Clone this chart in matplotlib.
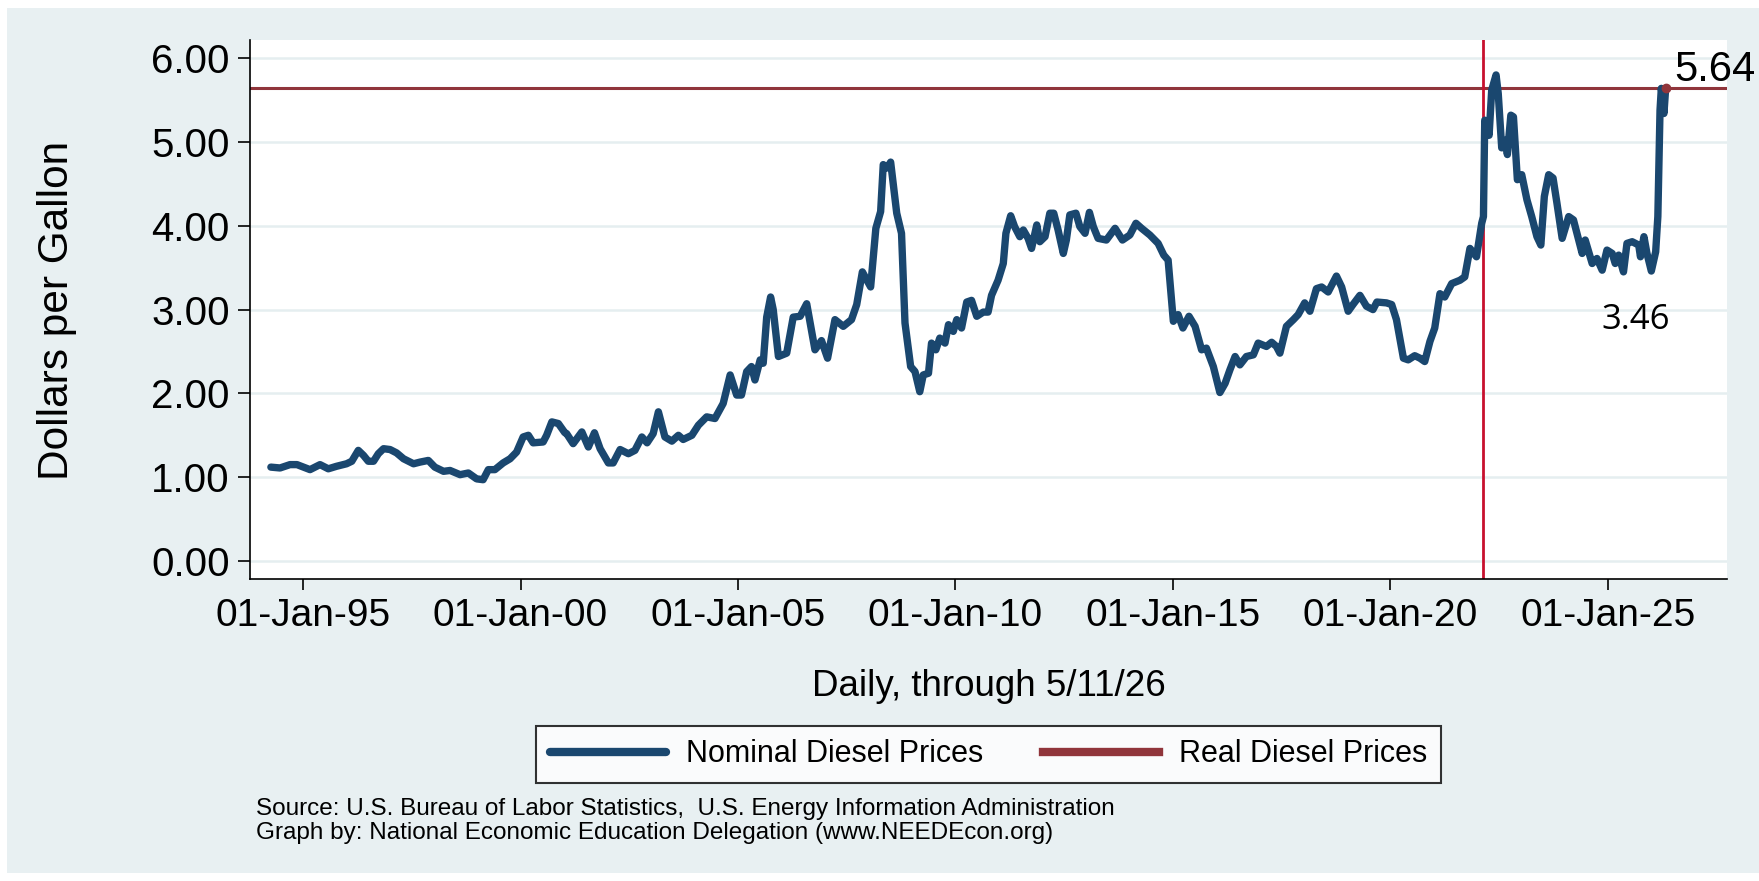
import matplotlib
matplotlib.use('Agg')
import matplotlib.pyplot as plt
from matplotlib.patches import Rectangle

# weekly nominal diesel prices (decimal years)
years = [
    1994.26, 1994.47, 1994.70, 1994.86, 1995.16, 1995.39, 1995.58, 1995.77, 1996.00, 1996.12,
    1996.27, 1996.39, 1996.50, 1996.62, 1996.73, 1996.85, 1997.00, 1997.15, 1997.31, 1997.54,
    1997.69, 1997.88, 1998.03, 1998.23, 1998.38, 1998.61, 1998.80, 1998.99, 1999.14, 1999.26,
    1999.41, 1999.60, 1999.76, 1999.91, 2000.06, 2000.18, 2000.29, 2000.52, 2000.60, 2000.72,
    2000.87, 2001.02, 2001.06, 2001.21, 2001.41, 2001.56, 2001.70, 2001.83, 2002.02, 2002.13,
    2002.29, 2002.48, 2002.63, 2002.79, 2002.91, 2003.05, 2003.17, 2003.32, 2003.48, 2003.63,
    2003.74, 2003.94, 2004.09, 2004.28, 2004.47, 2004.66, 2004.82, 2004.97, 2005.08, 2005.20,
    2005.31, 2005.39, 2005.51, 2005.58, 2005.66, 2005.75, 2005.81, 2005.93, 2006.12, 2006.27,
    2006.43, 2006.58, 2006.77, 2006.92, 2007.06, 2007.23, 2007.42, 2007.61, 2007.73, 2007.86,
    2008.05, 2008.17, 2008.28, 2008.34, 2008.43, 2008.51, 2008.65, 2008.76, 2008.84, 2008.97,
    2009.07, 2009.18, 2009.26, 2009.38, 2009.45, 2009.55, 2009.64, 2009.76, 2009.84, 2009.95,
    2010.03, 2010.14, 2010.26, 2010.37, 2010.49, 2010.64, 2010.75, 2010.83, 2010.98, 2011.10,
    2011.16, 2011.27, 2011.36, 2011.48, 2011.56, 2011.67, 2011.75, 2011.87, 2011.94, 2012.06,
    2012.17, 2012.26, 2012.36, 2012.48, 2012.55, 2012.63, 2012.77, 2012.86, 2012.98, 2013.08,
    2013.17, 2013.28, 2013.47, 2013.67, 2013.84, 2014.01, 2014.15, 2014.28, 2014.47, 2014.66,
    2014.79, 2014.89, 2015.01, 2015.12, 2015.23, 2015.37, 2015.51, 2015.66, 2015.77, 2015.93,
    2016.08, 2016.20, 2016.31, 2016.43, 2016.54, 2016.69, 2016.85, 2016.96, 2017.15, 2017.27,
    2017.38, 2017.46, 2017.61, 2017.77, 2017.88, 2018.03, 2018.15, 2018.30, 2018.42, 2018.57,
    2018.76, 2018.88, 2019.03, 2019.14, 2019.30, 2019.45, 2019.60, 2019.69, 2019.91, 2020.03,
    2020.14, 2020.30, 2020.41, 2020.56, 2020.68, 2020.79, 2020.91, 2021.02, 2021.14, 2021.25,
    2021.41, 2021.60, 2021.71, 2021.83, 2021.98, 2022.10, 2022.14, 2022.17, 2022.27, 2022.33,
    2022.43, 2022.48, 2022.56, 2022.64, 2022.69, 2022.77, 2022.83, 2022.92, 2023.02, 2023.14,
    2023.25, 2023.37, 2023.46, 2023.54, 2023.64, 2023.74, 2023.83, 2023.95, 2024.10, 2024.21,
    2024.41, 2024.48, 2024.64, 2024.75, 2024.87, 2024.98, 2025.10, 2025.17, 2025.25, 2025.36,
    2025.44, 2025.56, 2025.71, 2025.75, 2025.83, 2025.90, 2026.00, 2026.10, 2026.15, 2026.20,
    2026.23, 2026.29, 2026.33,
]
nominal = [
    1.12, 1.11, 1.15, 1.15, 1.09, 1.15, 1.10, 1.13, 1.16, 1.19,
    1.32, 1.26, 1.19, 1.19, 1.28, 1.34, 1.33, 1.29, 1.22, 1.16,
    1.18, 1.20, 1.12, 1.07, 1.08, 1.03, 1.05, 0.98, 0.97, 1.09,
    1.09, 1.17, 1.22, 1.30, 1.48, 1.50, 1.41, 1.42, 1.50, 1.66,
    1.64, 1.53, 1.52, 1.40, 1.54, 1.36, 1.53, 1.34, 1.17, 1.17,
    1.33, 1.28, 1.32, 1.48, 1.41, 1.52, 1.78, 1.48, 1.43, 1.50,
    1.45, 1.50, 1.62, 1.72, 1.70, 1.88, 2.22, 1.98, 1.98, 2.26,
    2.32, 2.16, 2.40, 2.36, 2.91, 3.15, 3.00, 2.44, 2.48, 2.91,
    2.92, 3.07, 2.52, 2.63, 2.42, 2.88, 2.80, 2.88, 3.06, 3.45,
    3.27, 3.97, 4.17, 4.73, 4.69, 4.76, 4.15, 3.91, 2.84, 2.32,
    2.26, 2.02, 2.22, 2.24, 2.60, 2.52, 2.66, 2.60, 2.82, 2.74,
    2.88, 2.78, 3.09, 3.11, 2.92, 2.97, 2.97, 3.17, 3.35, 3.55,
    3.91, 4.12, 3.99, 3.87, 3.95, 3.85, 3.73, 4.01, 3.81, 3.87,
    4.15, 4.15, 3.95, 3.67, 3.83, 4.13, 4.15, 3.99, 3.91, 4.16,
    3.99, 3.85, 3.83, 3.97, 3.83, 3.89, 4.03, 3.97, 3.89, 3.79,
    3.65, 3.59, 2.86, 2.94, 2.78, 2.92, 2.80, 2.52, 2.54, 2.32,
    2.01, 2.12, 2.28, 2.44, 2.34, 2.44, 2.46, 2.60, 2.56, 2.61,
    2.56, 2.48, 2.80, 2.88, 2.94, 3.08, 2.98, 3.25, 3.27, 3.21,
    3.40, 3.27, 2.98, 3.06, 3.17, 3.04, 3.00, 3.09, 3.08, 3.06,
    2.88, 2.42, 2.40, 2.45, 2.42, 2.38, 2.62, 2.78, 3.19, 3.15,
    3.31, 3.35, 3.39, 3.73, 3.63, 4.03, 4.11, 5.26, 5.08, 5.62,
    5.80, 5.58, 4.93, 5.02, 4.85, 5.32, 5.30, 4.55, 4.61, 4.31,
    4.11, 3.87, 3.77, 4.35, 4.61, 4.57, 4.27, 3.85, 4.11, 4.07,
    3.67, 3.83, 3.55, 3.61, 3.47, 3.71, 3.67, 3.55, 3.65, 3.45,
    3.79, 3.81, 3.77, 3.63, 3.87, 3.67, 3.46, 3.69, 4.11, 5.38,
    5.64, 5.34, 5.64,
]
real_latest = 5.64
low_label = '3.46'
invasion = 2022.12
tick_years = [1995, 2000, 2005, 2010, 2015, 2020, 2025]
tick_labels = ['01-Jan-95', '01-Jan-00', '01-Jan-05', '01-Jan-10',
               '01-Jan-15', '01-Jan-20', '01-Jan-25']
y_ticks = [0, 1, 2, 3, 4, 5, 6]

navy = '#1a476f'
maroon = '#90353b'
crimson = '#c8102e'
bg = '#e8f0f2'
grid_c = '#e5eef0'

plt.rcParams['font.family'] = ['Liberation Sans', 'DejaVu Sans']

W, H = 1759, 881
fig = plt.figure(figsize=(W / 100, H / 100), dpi=100)
fig.patch.set_facecolor('white')
fig.patches.append(Rectangle((7 / W, 1 - 873 / H), 1 - 7 / W, (873 - 8) / H,
                             transform=fig.transFigure, facecolor=bg,
                             edgecolor='none', zorder=-10))

ax = fig.add_axes([250 / W, 1 - 579 / H, (1727 - 250) / W, (579 - 40) / H])
ax.set_facecolor('white')

ax.axhline(real_latest, color=maroon, lw=2.2, zorder=2, label='Real Diesel Prices')
ax.axvline(invasion, color=crimson, lw=2.0, zorder=2)
ax.plot(years, nominal, color=navy, lw=5.3, solid_joinstyle='round',
        solid_capstyle='round', zorder=3, label='Nominal Diesel Prices')
ax.plot([years[-1]], [nominal[-1]], 'o', color=maroon, ms=6, zorder=4)

ax.annotate('5.64', xy=(years[-1], nominal[-1]), xytext=(6, 13),
            textcoords='offset points', ha='left', va='center', fontsize=30)
ax.text(2025.64, 2.88, low_label, ha='center', va='center', fontsize=25,
        family=['Open Sans', 'DejaVu Sans'])

ax.set_xlim(1993.78, 2027.74)
ax.set_ylim(-0.215, 6.217)
ax.set_xticks(tick_years)
ax.set_xticklabels(tick_labels)
ax.set_yticks(y_ticks)
ax.set_yticklabels(['%.2f' % v for v in y_ticks])
ax.yaxis.grid(True, color=grid_c, lw=1.8, zorder=0)
ax.set_axisbelow(True)

for s in ['top', 'right']:
    ax.spines[s].set_visible(False)
for s in ['left', 'bottom']:
    ax.spines[s].set_linewidth(1.2)
ax.tick_params(axis='y', labelsize=29, length=8.5, width=1.2, pad=6)
ax.tick_params(axis='x', labelsize=28, length=8, width=1.2, pad=6)

fig.text(57 / W, 1 - 310 / H, 'Dollars per Gallon', rotation=90,
         ha='center', va='center', fontsize=30.5)
fig.text((250 + 1727) / 2 / W, 1 - 687 / H, 'Daily, through 5/11/26',
         ha='center', va='center', fontsize=26.5)

handles, labels = ax.get_legend_handles_labels()
leg = fig.legend(handles[::-1], labels[::-1], loc='center', ncol=2,
                 bbox_to_anchor=(988.5 / W, 1 - 754.5 / H), fontsize=22,
                 frameon=True, fancybox=False, edgecolor='black',
                 handlelength=3.8, handletextpad=0.65, columnspacing=1.95,
                 borderpad=0.45)
leg.get_frame().set_linewidth(1.5)
for ln in leg.get_lines():
    ln.set_linewidth(6)

fig.text(256 / W, 1 - 809 / H,
         'Source: U.S. Bureau of Labor Statistics,  U.S. Energy Information Administration',
         ha='left', va='center', fontsize=17.5)
fig.text(256 / W, 1 - 833 / H,
         'Graph by: National Economic Education Delegation (www.NEEDEcon.org)',
         ha='left', va='center', fontsize=17.5)

fig.savefig('out.png', dpi=100)
